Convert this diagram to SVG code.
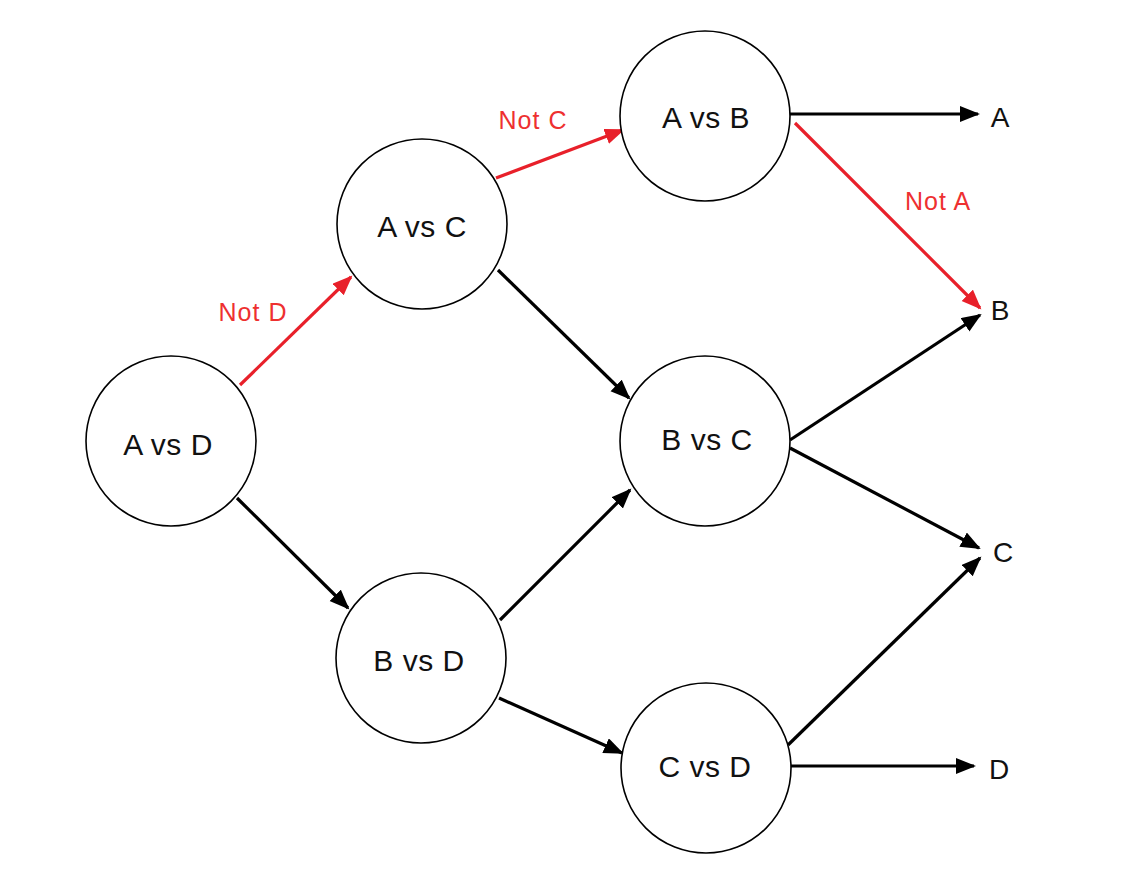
<svg xmlns="http://www.w3.org/2000/svg" width="1138" height="886" viewBox="0 0 1138 886">
  <style>
    .node circle { fill: #ffffff; stroke: #000000; stroke-width: 1.6; }
    .node text { font-family: "Liberation Sans", Arial, sans-serif; font-size: 30px; letter-spacing: 0.5px; fill: #111111; text-anchor: middle; }
    .outcome text { font-family: "Liberation Sans", Arial, sans-serif; font-size: 28px; fill: #111111; text-anchor: middle; }
    .edge { stroke-width: 3.2; fill: none; }
    .edge.black { stroke: #000000; marker-end: url(#arrow-black); }
    .edge.red { stroke: #e8202a; marker-end: url(#arrow-red); }
    .elabel { font-family: "Liberation Sans", Arial, sans-serif; font-size: 25px; letter-spacing: 1px; fill: #ee3030; text-anchor: middle; }
  </style>
  <defs>
    <marker id="arrow-black" markerUnits="userSpaceOnUse" markerWidth="22" markerHeight="18" refX="18" refY="8" orient="auto">
      <path d="M0,0 L20,8 L0,16 z" fill="#000000"/>
    </marker>
    <marker id="arrow-red" markerUnits="userSpaceOnUse" markerWidth="22" markerHeight="18" refX="18" refY="8" orient="auto">
      <path d="M0,0 L20,8 L0,16 z" fill="#e8202a"/>
    </marker>
  </defs>
  <rect width="1138" height="886" fill="#ffffff"/>

  <!-- connectors -->
  <g id="connectors">
    <line class="edge red" x1="240" y1="385" x2="351" y2="277"/>
    <line class="edge black" x1="237" y1="498" x2="348" y2="608"/>
    <line class="edge red" x1="496" y1="178" x2="623" y2="130"/>
    <line class="edge black" x1="498" y1="270" x2="629" y2="398"/>
    <line class="edge black" x1="500" y1="620" x2="630" y2="490"/>
    <line class="edge black" x1="499" y1="698" x2="622" y2="753"/>
    <line class="edge black" x1="790" y1="114" x2="978" y2="114"/>
    <line class="edge red" x1="795" y1="123" x2="980" y2="308"/>
    <line class="edge black" x1="790" y1="440" x2="980" y2="315"/>
    <line class="edge black" x1="790" y1="448" x2="979" y2="548"/>
    <line class="edge black" x1="788" y1="745" x2="980" y2="558"/>
    <line class="edge black" x1="790" y1="766" x2="974" y2="766"/>
    <text class="elabel" x="253" y="321">Not D</text>
    <text class="elabel" x="533" y="129">Not C</text>
    <text class="elabel" x="938" y="210">Not A</text>
  </g>

  <!-- match nodes -->
  <g id="node-a-vs-d" class="node">
    <circle cx="171" cy="441" r="85"/>
    <text x="168" y="455">A vs D</text>
  </g>
  <g id="node-a-vs-c" class="node">
    <circle cx="422" cy="224" r="85"/>
    <text x="422" y="237">A vs C</text>
  </g>
  <g id="node-a-vs-b" class="node">
    <circle cx="705" cy="116" r="85"/>
    <text x="706" y="128">A vs B</text>
  </g>
  <g id="node-b-vs-d" class="node">
    <circle cx="421" cy="658" r="85"/>
    <text x="419" y="671">B vs D</text>
  </g>
  <g id="node-b-vs-c" class="node">
    <circle cx="705" cy="441" r="85"/>
    <text x="707" y="450">B vs C</text>
  </g>
  <g id="node-c-vs-d" class="node">
    <circle cx="706" cy="768" r="85"/>
    <text x="705" y="777">C vs D</text>
  </g>

  <!-- outcomes -->
  <g id="outcome-a" class="outcome"><text x="1000" y="127">A</text></g>
  <g id="outcome-b" class="outcome"><text x="1000" y="320">B</text></g>
  <g id="outcome-c" class="outcome"><text x="1003" y="562">C</text></g>
  <g id="outcome-d" class="outcome"><text x="999" y="779">D</text></g>
</svg>
